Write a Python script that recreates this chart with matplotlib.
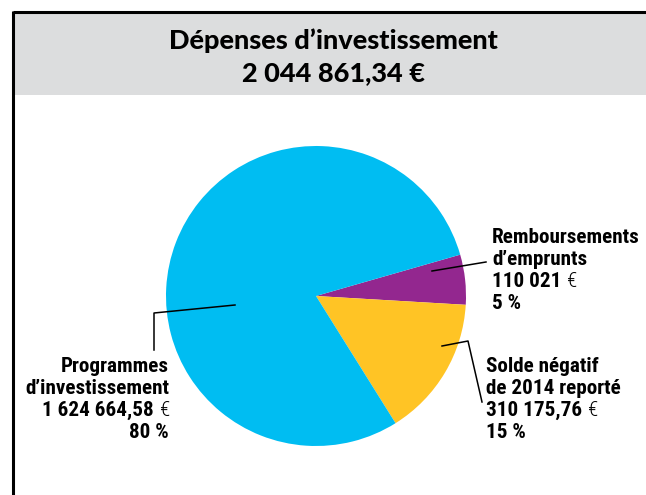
import matplotlib
matplotlib.use('Agg')
import matplotlib.pyplot as plt
from matplotlib.patches import Rectangle
from matplotlib import font_manager

# Data
categories = ["Remboursements\nd’emprunts", "Solde négatif\nde 2014 reporté", "Programmes\nd’investissement"]
amounts = [110021.00, 310175.76, 1624664.58]
percents = ["5 %", "15 %", "80 %"]
colors = ["#93278F", "#FFC425", "#00BDF2"]
title = "Dépenses d’investissement"


def fr(v):
    s = f"{v:,.2f}".replace(",", " ").replace(".", ",")
    if s.endswith(",00"):
        s = s[:-3]
    return s


ttf = font_manager.fontManager.ttflist
names = {f.name for f in ttf}
label_font = "Roboto Condensed" if "Roboto Condensed" in names else "DejaVu Sans"
title_prop = font_manager.FontProperties(family="Lato", weight="black", size=19.5)

W, H = 646, 495
fig = plt.figure(figsize=(W / 100, H / 100), dpi=100)
ax = fig.add_axes([0, 0, 1, 1])

# pie (pixel coords, y up)
cx, cy, r = 316, H - 296, 150
ax.pie(amounts, colors=colors, startangle=16, counterclock=False,
       center=(cx, cy), radius=r, wedgeprops=dict(linewidth=0))

ax.set_xlim(0, W)
ax.set_ylim(0, H)
ax.set_aspect('equal')
ax.axis('off')

# header band and frame
ax.add_patch(Rectangle((14, H - 95), W, 82, facecolor="#DCDDDE", edgecolor="none", zorder=0))
ax.plot([13, W], [H - 12, H - 12], color="black", lw=2.2, solid_capstyle='butt')
ax.plot([13, 13], [0, H - 11], color="black", lw=2.2, solid_capstyle='butt')

total = sum(amounts)
ax.text(333, H - 49, title, ha='center', va='baseline', fontproperties=title_prop)
ax.text(333, H - 81, fr(total) + " €", ha='center', va='baseline', fontproperties=title_prop)

# labels: (x, baseline y of first line, ha)
label_pos = [(492, 243, 'left'), (486, 372, 'left'), (169, 372, 'right')]
step = 22
fs = 15.2
for (x, y0, ha), cat, amt, pct in zip(label_pos, categories, amounts, percents):
    lines = cat.split("\n")
    for i, ln in enumerate(lines):
        ax.text(x, H - (y0 + i * step), ln, ha=ha, va='baseline', fontsize=fs,
                fontweight='bold', family=label_font)
    ya = H - (y0 + 2 * step)
    if ha == 'left':
        t = ax.text(x, ya, fr(amt) + " ", ha='left', va='baseline', fontsize=fs,
                    fontweight='bold', family=label_font)
        ax.annotate("€", xy=(1, 0), xycoords=t, ha='left', va='bottom',
                    fontsize=fs, family=label_font, fontweight='light')
    else:
        e = ax.text(x, ya, "€", ha='right', va='baseline', fontsize=fs,
                    family=label_font, fontweight='light')
        ax.annotate(fr(amt) + " ", xy=(0, 0), xycoords=e, ha='right', va='bottom',
                    fontsize=fs, fontweight='bold', family=label_font)
    ax.text(x, H - (y0 + 3 * step), pct, ha=ha, va='baseline', fontsize=fs,
            fontweight='bold', family=label_font)

# leader lines
leaders = [
    [(432, 271), (486, 262)],
    [(442, 346), (468, 341), (482, 402)],
    [(235, 305), (154, 313), (154, 350)],
]
for pts in leaders:
    ax.plot([p[0] for p in pts], [H - p[1] for p in pts], color="black", lw=1.1)

fig.savefig("out.png", dpi=100)
